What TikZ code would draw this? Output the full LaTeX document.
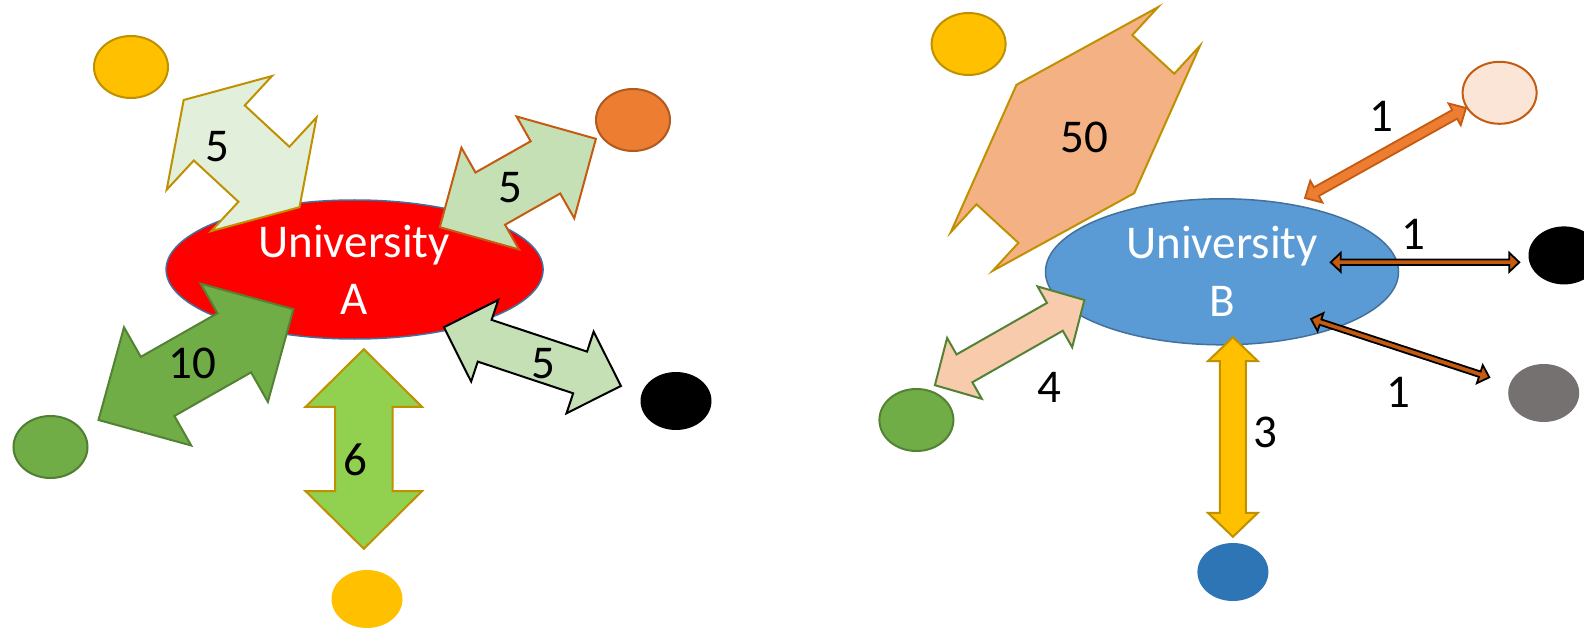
\documentclass[tikz,border=0pt]{standalone}
\usepackage{fontspec}
\setmainfont{Carlito}
\usepackage{tikz}
\usetikzlibrary{shapes.geometric,calc}

\definecolor{redA}{HTML}{FF0000}
\definecolor{edgeBlue}{HTML}{41719C}
\definecolor{blueB}{HTML}{5B9BD5}
\definecolor{blueDark}{HTML}{2E75B6}
\definecolor{gold}{HTML}{FFC000}
\definecolor{goldDark}{HTML}{BF9000}
\definecolor{orangeA}{HTML}{ED7D31}
\definecolor{orangeEdge}{HTML}{AE5A21}
\definecolor{rust}{HTML}{C55A11}
\definecolor{greenA}{HTML}{70AD47}
\definecolor{greenEdge}{HTML}{507E32}
\definecolor{greenLine}{HTML}{548235}
\definecolor{lightGreen}{HTML}{C5E0B4}
\definecolor{paleGreen}{HTML}{E2EFDA}
\definecolor{lime}{HTML}{92D050}
\definecolor{peach}{HTML}{F4B183}
\definecolor{peachLight}{HTML}{F8CBAD}
\definecolor{peachPale}{HTML}{FBE5D6}
\definecolor{grayB}{HTML}{767171}

\newcommand{\bigfont}{\fontsize{47}{57}\selectfont}

% block double arrow: style, from, to, shaft half width, head half width, head length
\newcommand{\duoarrow}[6]{%
  \draw[#1] (#2)
    -- ($(#2)!#6pt!(#3)!#5pt!90:(#3)$)
    -- ($(#2)!#6pt!(#3)!#4pt!90:(#3)$)
    -- ($(#3)!#6pt!(#2)!#4pt!-90:(#2)$)
    -- ($(#3)!#6pt!(#2)!#5pt!-90:(#2)$)
    -- (#3)
    -- ($(#3)!#6pt!(#2)!#5pt!90:(#2)$)
    -- ($(#3)!#6pt!(#2)!#4pt!90:(#2)$)
    -- ($(#2)!#6pt!(#3)!#4pt!-90:(#3)$)
    -- ($(#2)!#6pt!(#3)!#5pt!-90:(#3)$)
    -- cycle;}

\begin{document}
\begin{tikzpicture}[x=1pt,y=-1pt,
  uni/.style={ellipse,draw=edgeBlue,line width=1.5pt,inner sep=0pt},
  dot/.style={ellipse,inner sep=0pt,minimum width=71pt,minimum height=58pt},
  ring/.style={dot,line width=2pt,minimum width=74pt,minimum height=62pt},
  blk/.style={line width=2pt,line join=miter},
  thin/.style={line width=1.8pt,line join=miter},
  unitext/.style={font=\bigfont,text=white,align=center,anchor=base},
  num/.style={font=\bigfont,inner sep=0pt},
  ]
  \fill[white] (0,0) rectangle (1584,628);
  \useasboundingbox (0,0) rectangle (1584,628);

  % University A
  \node at (354.6,269.5) [uni,fill=redA,minimum width=377pt,minimum height=139pt] (uniA) {};
  \node at (131,67) [ring,draw=goldDark,fill=gold] (yelA) {};
  \node at (633,120) [ring,draw=orangeEdge,fill=orangeA] (oraA) {};
  \node at (50.5,447) [ring,draw=greenEdge,fill=greenA] (grnA) {};
  \node at (676,401) [dot,fill=black] (blkA) {};
  \node at (367,599) [dot,fill=gold] (ylbA) {};

  % University B
  \node at (1222,271.8) [uni,fill=blueB,minimum width=353pt,minimum height=146pt] (uniB) {};
  \node at (968.6,44) [ring,draw=goldDark,fill=gold] (yelB) {};
  \node at (1499.6,92.8) [ring,draw=rust,fill=peachPale] (pchB) {};
  \node at (1564,255.4) [dot,fill=black] (blkB) {};
  \node at (1543.7,393) [dot,fill=grayB] (gryB) {};
  \node at (916.4,420) [ring,draw=greenLine,fill=greenA] (grnB) {};
  \node at (1232.9,572) [dot,fill=blueDark] (bluB) {};

  % arrow ends
  \coordinate (a1s) at (183.7,100);   \coordinate (a1e) at (299.5,207.2);
  \coordinate (a2s) at (439.8,227.2); \coordinate (a2e) at (595.9,138.8);
  \coordinate (a3s) at (98.5,420);    \coordinate (a3e) at (293.4,309.2);
  \coordinate (a4s) at (443.9,327.2); \coordinate (a4e) at (620.9,386);
  \coordinate (a5s) at (363.8,349.2); \coordinate (a5e) at (363.8,548.8);
  \coordinate (b1s) at (1016.5,84.8); \coordinate (b1e) at (1134.2,193.2);
  \coordinate (b2s) at (934.9,385.2); \coordinate (b2e) at (1084.4,300);
  \coordinate (b3s) at (1232.9,337.2); \coordinate (b3e) at (1232.9,536.8);
  \coordinate (b4s) at (1305,198);    \coordinate (b4e) at (1466,108);
  \coordinate (b5s) at (1330.7,262.3); \coordinate (b5e) at (1519.3,262.3);
  \coordinate (b6s) at (1311,319);    \coordinate (b6e) at (1489.3,377.3);

  \duoarrow{blk,fill=paleGreen,draw=goldDark}{a1s}{a1e}{37.5}{77.5}{48.5}
  \duoarrow{blk,fill=lightGreen,draw=rust}{a2s}{a2e}{30}{58.5}{58}
  \duoarrow{blk,fill=greenA,draw=greenLine}{a3s}{a3e}{34}{68}{68}
  \duoarrow{blk,fill=lightGreen,draw=black}{a4s}{a4e}{22}{43}{43}
  \duoarrow{blk,fill=lime,draw=goldDark}{a5s}{a5e}{28.8}{58.2}{57.6}
  \duoarrow{blk,fill=peach,draw=goldDark}{b1s}{b1e}{115}{153}{51.5}
  \duoarrow{blk,fill=peachLight,draw=greenLine}{b2s}{b2e}{16}{35}{34}
  \duoarrow{blk,fill=gold,draw=goldDark}{b3s}{b3e}{13}{25}{24}
  \duoarrow{thin,fill=orangeA,draw=rust}{b4s}{b4e}{5}{12.5}{13}
  \duoarrow{thin,fill=rust,draw=black}{b5s}{b5e}{2.8}{9.5}{10}
  \duoarrow{thin,fill=rust,draw=black}{b6s}{b6e}{2.8}{9.5}{10}

  \node at (354,314) [unitext] (txtA) {University\\A};
  \node at (1222,316) [unitext] (txtB) {University\\B};

  \node at (217,147) [num] (n1) {5};
  \node at (510,188) [num] (n2) {5};
  \node at (192,363) [num] (n3) {10};
  \node at (543,364) [num] (n4) {5};
  \node at (355,460) [num] (n5) {6};
  \node at (1084.4,137) [num] (n6) {50};
  \node at (1049,387) [num] (n7) {4};
  \node at (1265.7,432) [num] (n8) {3};
  \node at (1381,116) [num] (n9) {1};
  \node at (1413,234) [num] (n10) {1};
  \node at (1398.6,392) [num] (n11) {1};
\end{tikzpicture}
\end{document}
